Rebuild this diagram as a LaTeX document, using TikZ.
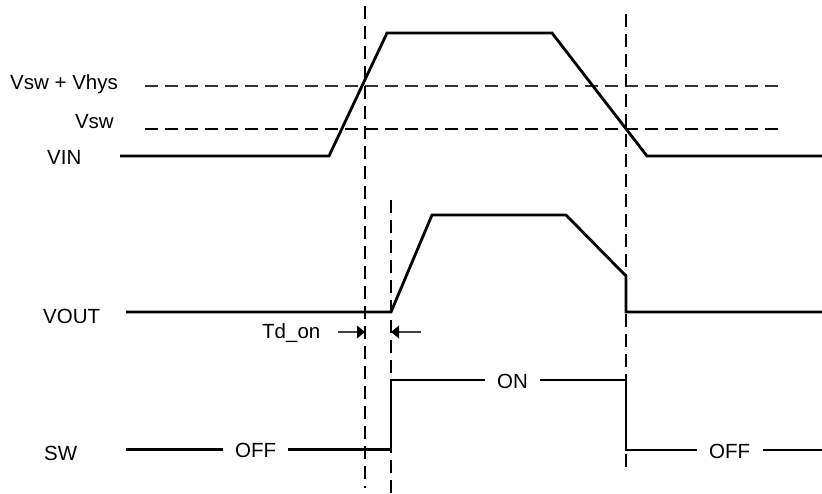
\documentclass[tikz,border=0pt]{standalone}
\usepackage{fontspec}
\setmainfont{Liberation Sans}
\usetikzlibrary{arrows.meta}
\tikzset{
  sig/.style={line width=2.8pt, line join=miter},
  guide/.style={line width=1.2pt, dash pattern=on 13pt off 7pt},
  lab/.style={inner sep=0pt, anchor=base, font=\fontsize{20.5}{24}\selectfont},
  labw/.style={lab, anchor=base west},
  labe/.style={lab, anchor=base east},
  tdarrow/.style={line width=1.1pt, draw=black!75}
}
\begin{document}
\begin{tikzpicture}[x=1pt,y=-1pt]
\useasboundingbox (0,0) rectangle (822,493);
% labels
\node[labw] (lhys) at (10,89) {Vsw + Vhys};
\node[labe] (lvsw) at (114,128) {Vsw};
\node[labw] (lvin) at (47,164) {VIN};
\node[labw] (lvout) at (43,323) {VOUT};
\node[labw] (lsw) at (44,460) {SW};
\node[labw] (ltd) at (262,338) {Td\_on};
\node[labw] (off1) at (235,457) {OFF};
\node[labw] (on) at (497,388) {ON};
\node[labw] (off2) at (709,458) {OFF};
% guides
\coordinate (h1a) at (145,86); \coordinate (h1b) at (778,86);
\coordinate (h2a) at (145,129); \coordinate (h2b) at (778,129);
\coordinate (v1a) at (365,6); \coordinate (v1b) at (365,488);
\coordinate (v2a) at (391,200); \coordinate (v2b) at (391,493);
\coordinate (v3a) at (626,14); \coordinate (v3b) at (626,474);
\draw[guide, draw=black!80] (h1a) -- (h1b);
\draw[guide] (h2a) -- (h2b);
\draw[guide] (v1a) -- (v1b);
\draw[guide] (v2a) -- (v2b);
\draw[guide] (v3a) -- (v3b);
% VIN
\draw[sig] (120,156) -- (329,156) -- (387,33) -- (552,33) -- (647,156) -- (822,156);
% VOUT
\draw[sig] (126,312) -- (391,312) -- (432,215) -- (566,215) -- (626,276) -- (626,312) -- (822,312);
% SW
\draw[sig] (126,449.5) -- (223,449.5);
\draw[sig] (288,449.5) -- (391,449.5) -- (391,380) -- (485,380);
\draw[sig] (540,380) -- (626,380) -- (626,450) -- (697,450);
\draw[sig] (763,450) -- (822,450);
% Td_on arrows
\coordinate (a1) at (338,332); \coordinate (a1t) at (365,332);
\coordinate (a2) at (421,332); \coordinate (a2t) at (391,332);
\draw[tdarrow] (a1) -- ([xshift=-6pt]a1t);
\draw[tdarrow] (a2) -- ([xshift=6pt]a2t);
\fill (a1t) -- ++(-8,-6.5) -- ++(0,13) -- cycle;
\fill (a2t) -- ++(8,-6.5) -- ++(0,13) -- cycle;
\end{tikzpicture}
\end{document}
